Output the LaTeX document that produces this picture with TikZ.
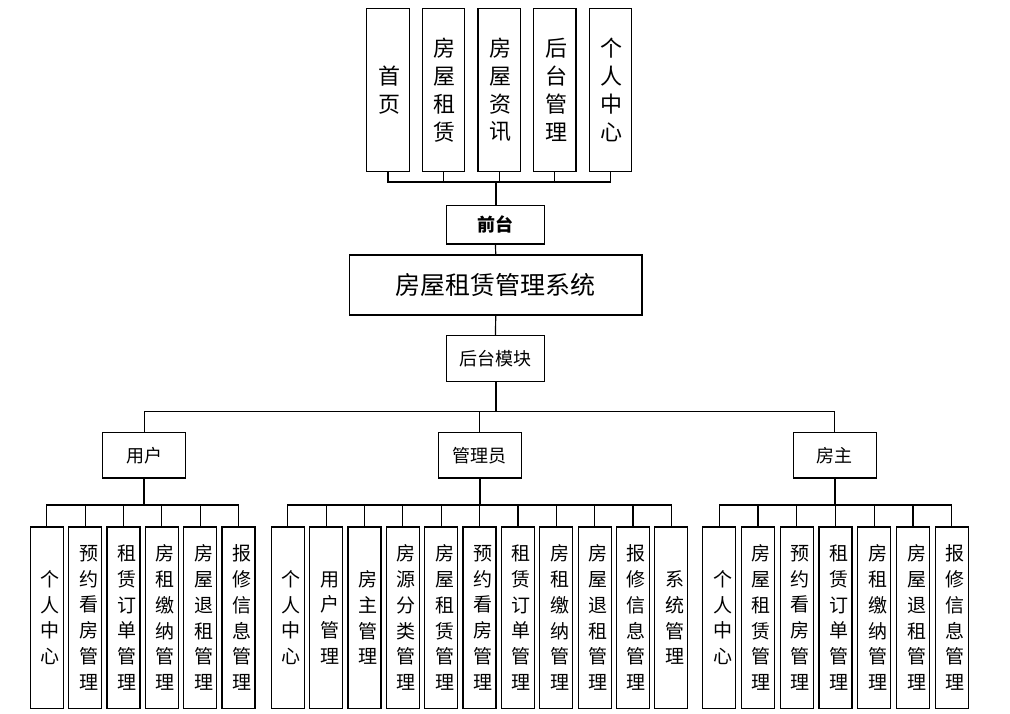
\documentclass[tikz,border=0pt]{standalone}
\usepackage{fontspec}
\setmainfont{Noto Sans CJK SC}
\XeTeXlinebreaklocale "zh"
\XeTeXlinebreakskip=0pt plus 1pt

\begin{document}
\begin{tikzpicture}[x=1pt, y=-1pt,
        box/.style={draw=black, fill=white, line width=1.2pt, inner sep=0pt, align=center},
        conn/.style={line width=1.2pt},
        trunk/.style={line width=2pt},
        topbox/.style={box, minimum width=42.5pt, minimum height=163.4pt},
        leaf/.style={box, minimum width=33pt, minimum height=181.3pt},
        midbox/.style={box, minimum width=83pt, minimum height=45.7pt, font=\fontsize{18}{22}\selectfont},
        vtext/.style={text width=24pt, align=center, inner sep=0pt, font=\fontsize{19}{25.7}\selectfont}]
    \useasboundingbox (0,0) rectangle (1010,714);

    \foreach \t [count=\i] in {首页, 房屋租赁, 房屋资讯, 后台管理, 个人中心} {
        \node[topbox] (t\i) at ({388+55.6*(\i-1)}, 90) {};
        \node[vtext, text width=28pt, font=\fontsize{22}{27.8}\selectfont, xshift=1.3pt] at (t\i) {\t};
    }

    \node[box, minimum width=97.6pt, minimum height=38.3pt, font=\bfseries\fontsize{18}{22}\selectfont] (qt) at (495.5, 224.8) {前台};
    \node[box, minimum width=292.7pt, minimum height=60pt, font=\fontsize{25}{30}\selectfont] (sys) at (495.7, 285) {房屋租赁管理系统};
    \node[box, minimum width=97.6pt, minimum height=46pt, font=\fontsize{18}{22}\selectfont] (ht) at (495.5, 358.7) {后台模块};

    \draw[trunk] (qt.north) -- ++(0,-23) coordinate (tbar);
    \foreach \i in {1,...,5} \draw[conn] (tbar) -| (t\i.south);
    \draw[conn] (qt.south) -- (sys.north);
    \draw[conn] (sys.south) -- (ht.north);
    \draw[trunk] (ht.south) -- ++(0,29) coordinate (mbar);

    \foreach \n/\t/\x in {user/用户/144.2, admin/管理员/479.7, owner/房主/834.8} {
        \node[midbox] (\n) at (\x, 455.2) {\t};
        \draw[conn] (mbar) -| (\n.north);
        \draw[trunk] (\n.south) -- ++(0,26.3);
    }

    \foreach \t [count=\i] in {个人中心, 预约看房管理, 租赁订单管理, 房租缴纳管理, 房屋退租管理, 报修信息管理} {
        \node[leaf] (user\i) at ({46.8+38.35*(\i-1)}, 617.7) {};
        \node[vtext, xshift=3.5pt] at (user\i) {\t};
        \draw[conn] (user.south) -- ++(0,26.3) -| (user\i.north);
    }

    \foreach \t [count=\i] in {个人中心, 用户管理, 房主管理, 房源分类管理, 房屋租赁管理, 预约看房管理, 租赁订单管理, 房租缴纳管理, 房屋退租管理, 报修信息管理, 系统管理} {
        \node[leaf] (admin\i) at ({287.8+38.35*(\i-1)}, 617.7) {};
        \node[vtext, xshift=3.5pt] at (admin\i) {\t};
        \draw[conn] (admin.south) -- ++(0,26.3) -| (admin\i.north);
    }

    \foreach \t [count=\i] in {个人中心, 房屋租赁管理, 预约看房管理, 租赁订单管理, 房租缴纳管理, 房屋退租管理, 报修信息管理} {
        \node[leaf] (owner\i) at ({719.2+38.77*(\i-1)}, 617.7) {};
        \node[vtext, xshift=3.5pt] at (owner\i) {\t};
        \draw[conn] (owner.south) -- ++(0,26.3) -| (owner\i.north);
    }
\end{tikzpicture}
\end{document}
